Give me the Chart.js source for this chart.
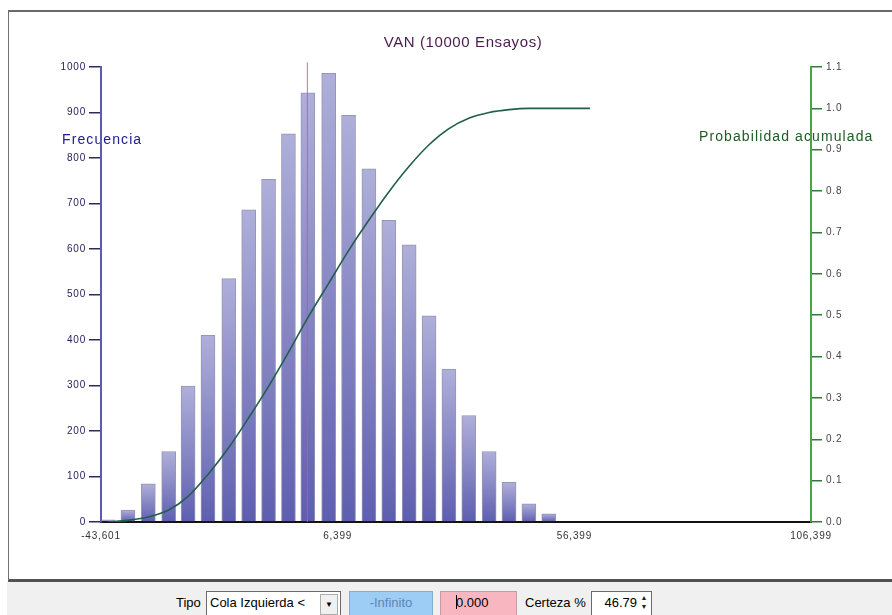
<!DOCTYPE html>
<html>
<head>
<meta charset="utf-8">
<script src="https://cdn.jsdelivr.net/npm/chart.js@4.4.0/dist/chart.umd.min.js"></script>
<style>
body { margin:0; width:892px; height:615px; overflow:hidden; background:#fff; position:relative; font-family:"Liberation Sans", Arial, sans-serif; }
#frame { position:absolute; left:8px; top:10px; width:890px; height:567px; border-left:1px solid #707070; border-top:2px solid #6a6a6a; border-bottom:3px solid #525252; }
#chart { position:absolute; left:0; top:0; }
#bar { position:absolute; left:7px; top:582px; width:885px; height:33px; background:#f0f0f0; overflow:hidden; }
.lbl { position:absolute; top:13px; font-size:13px; line-height:16px; color:#000; }
.ctl { position:absolute; top:9px; height:30px; box-sizing:border-box; border:1px solid #7a7a7a; font-size:13px; line-height:22px; white-space:nowrap; }
.drop { position:absolute; right:2px; top:2px; width:16px; height:19px; background:#f0f0f0; border:1px solid #adadad; font-size:8px; line-height:19px; text-align:center; }
.spin { position:absolute; right:1px; top:1px; width:12px; font-size:7px; line-height:9px; text-align:center; color:#222; }
</style>
</head>
<body>
<div id="frame"></div>
<canvas id="chart" width="892" height="582"></canvas>
<div id="bar">
  <span class="lbl" style="left:169px">Tipo</span>
  <div class="ctl" style="left:199px;width:135px;background:#fff;padding-left:3px;border-color:#6a6a6a">Cola Izquierda &lt;<span class="drop">&#9660;</span></div>
  <div class="ctl" style="left:342px;width:84px;background:#9dcdf4;color:#5c86b4;text-align:center;border-color:#8aaccc">-Infinito</div>
  <div class="ctl" style="left:433px;width:77px;background:#f8b6c1;padding-left:15px;border-color:#c99aa2"><span style="display:inline-block;width:1px;height:14px;background:#000;vertical-align:-2px;margin-right:-1px"></span>0.000</div>
  <span class="lbl" style="left:518px">Certeza %</span>
  <div class="ctl" style="left:584px;width:61px;background:#fff;text-align:right;padding-right:14px;border-color:#6a6a6a">46.79<span class="spin">&#9650;<br>&#9660;</span></div>
</div>
<script>
let chartTitle = "VAN (10000 Ensayos)";
let leftLabel = "Frecuencia";
let rightLabel = "Probabilidad acumulada";

// histogram bins (VAN value at bin centre) and counts
let binCenters = [-42100, -37900, -33600, -29300, -25200, -21000, -16600, -12400, -8200, -4000,
    100, 4500, 8700, 13000, 17200, 21500, 25700, 29900, 34100, 38400, 42600, 46800, 51000];
let frequencies = [5, 26, 84, 155, 299, 410, 535, 686, 753, 853,
    943, 986, 894, 776, 663, 609, 453, 336, 234, 155, 87, 40, 18];

// cumulative probability curve
let cdfX = [-42100, -37900, -33600, -29300, -25200, -21000, -16600, -12400, -8200, -4000,
    100, 4500, 8700, 13000, 17200, 21500, 25700, 29900, 34100, 38400, 42600, 46800, 51000, 59700];
let cdfY = [0, 0.004, 0.012, 0.029, 0.062, 0.115, 0.18, 0.252, 0.328, 0.41,
    0.494, 0.577, 0.656, 0.73, 0.798, 0.86, 0.912, 0.951, 0.976, 0.99, 0.997, 1.0, 1.0, 1.0];

// certainty marker (0.000)
let markerX = [0, 0];
let markerY = [0, 1010];

// tick labels
let xTicks = [-43601, 6399, 56399, 106399];
let yTicks = [0, 100, 200, 300, 400, 500, 600, 700, 800, 900, 1000];
let y1Ticks = [0, 0.1, 0.2, 0.3, 0.4, 0.5, 0.6, 0.7, 0.8, 0.9, 1.0, 1.1];

Chart.defaults.font.family = "Liberation Sans";

function barFill(ctx) {
    let chart = ctx.chart;
    let yScale = chart.scales.y;
    if (!yScale || !ctx.raw) return "#8a8ac8";
    let top = yScale.getPixelForValue(ctx.raw.y);
    let base = yScale.getPixelForValue(0);
    if (!isFinite(top) || !isFinite(base) || top === base) return "#8a8ac8";
    let g = chart.ctx.createLinearGradient(0, top, 0, base);
    g.addColorStop(0, "#afafda");
    g.addColorStop(1, "#5e5eb0");
    return g;
}

// title and axis captions, drawn under the axis lines
let captions = {
    id: "captions",
    beforeDraw(chart) {
        let c = chart.ctx;
        c.save();
        c.textBaseline = "middle";
        c.textAlign = "center";
        c.font = '15px "Liberation Sans"';
        c.letterSpacing = "0.6px";
        c.fillStyle = "#4a1b4c";
        c.fillText(chartTitle, 463, 43);
        c.textAlign = "left";
        c.font = '14px "Liberation Sans"';
        c.letterSpacing = "1.1px";
        c.fillStyle = "#20208e";
        c.fillText(leftLabel, 62, 140);
        c.fillStyle = "#1d5b24";
        c.fillText(rightLabel, 699, 137);
        c.restore();
        c.letterSpacing = "0.8px";
    }
};

let chartCanvas = document.getElementById("chart");

let vanChart = new Chart(chartCanvas, {
    type: "bar",
    data: {
        datasets: [{
            type: "line",
            data: cdfX.map((x, i) => ({ x: x, y: cdfY[i] })),
            yAxisID: "y1",
            borderColor: "#225e4c",
            borderWidth: 1.6,
            pointRadius: 0,
            fill: false,
            cubicInterpolationMode: "monotone",
            order: 1
        }, {
            type: "line",
            data: markerX.map((x, i) => ({ x: x, y: markerY[i] })),
            yAxisID: "y",
            borderColor: "rgba(185,90,165,0.85)",
            borderWidth: 1,
            pointRadius: 0,
            fill: false,
            clip: false,
            order: 2
        }, {
            type: "bar",
            data: binCenters.map((x, i) => ({ x: x, y: frequencies[i] })),
            yAxisID: "y",
            backgroundColor: barFill,
            borderColor: "rgba(105,105,150,0.7)",
            borderWidth: 1,
            barThickness: 14,
            order: 3
        }]
    },
    options: {
        responsive: false,
        animation: false,
        layout: {
            padding: { top: 67, left: 0, right: 0, bottom: 0 }
        },
        scales: {
            x: {
                type: "linear",
                min: xTicks[0],
                max: xTicks[xTicks.length - 1],
                offset: false,
                afterBuildTicks: s => { s.ticks = xTicks.map(v => ({ value: v })); },
                afterFit: s => { s.height = 60; },
                grid: { drawOnChartArea: false, drawTicks: false, offset: false },
                border: { color: "#111", width: 2 },
                ticks: {
                    color: "#333",
                    font: { size: 10 },
                    padding: 8,
                    maxRotation: 0,
                    autoSkip: false,
                    callback: v => v.toLocaleString("en-US")
                }
            },
            y: {
                position: "left",
                min: 0,
                max: 1000,
                afterBuildTicks: s => { s.ticks = yTicks.map(v => ({ value: v })); },
                afterFit: s => { s.width = 101; },
                grid: { drawOnChartArea: false, tickLength: 12, color: "#2c2c58", lineWidth: 1.5 },
                border: { color: "#5b5bb5", width: 2 },
                ticks: { color: "#24245c", font: { size: 10 }, padding: 3, callback: v => String(v) }
            },
            y1: {
                position: "right",
                min: 0,
                max: 1.1,
                afterBuildTicks: s => { s.ticks = y1Ticks.map(v => ({ value: v })); },
                afterFit: s => { s.width = 81; },
                grid: { drawOnChartArea: false, tickLength: 11, color: "#2f7a36", lineWidth: 1.5 },
                border: { color: "#4aa34a", width: 2 },
                ticks: { color: "#444", font: { size: 10 }, padding: 4, callback: v => v.toFixed(1) }
            }
        },
        plugins: {
            legend: { display: false },
            tooltip: { enabled: false }
        }
    },
    plugins: [captions]
});
</script>
</body>
</html>
